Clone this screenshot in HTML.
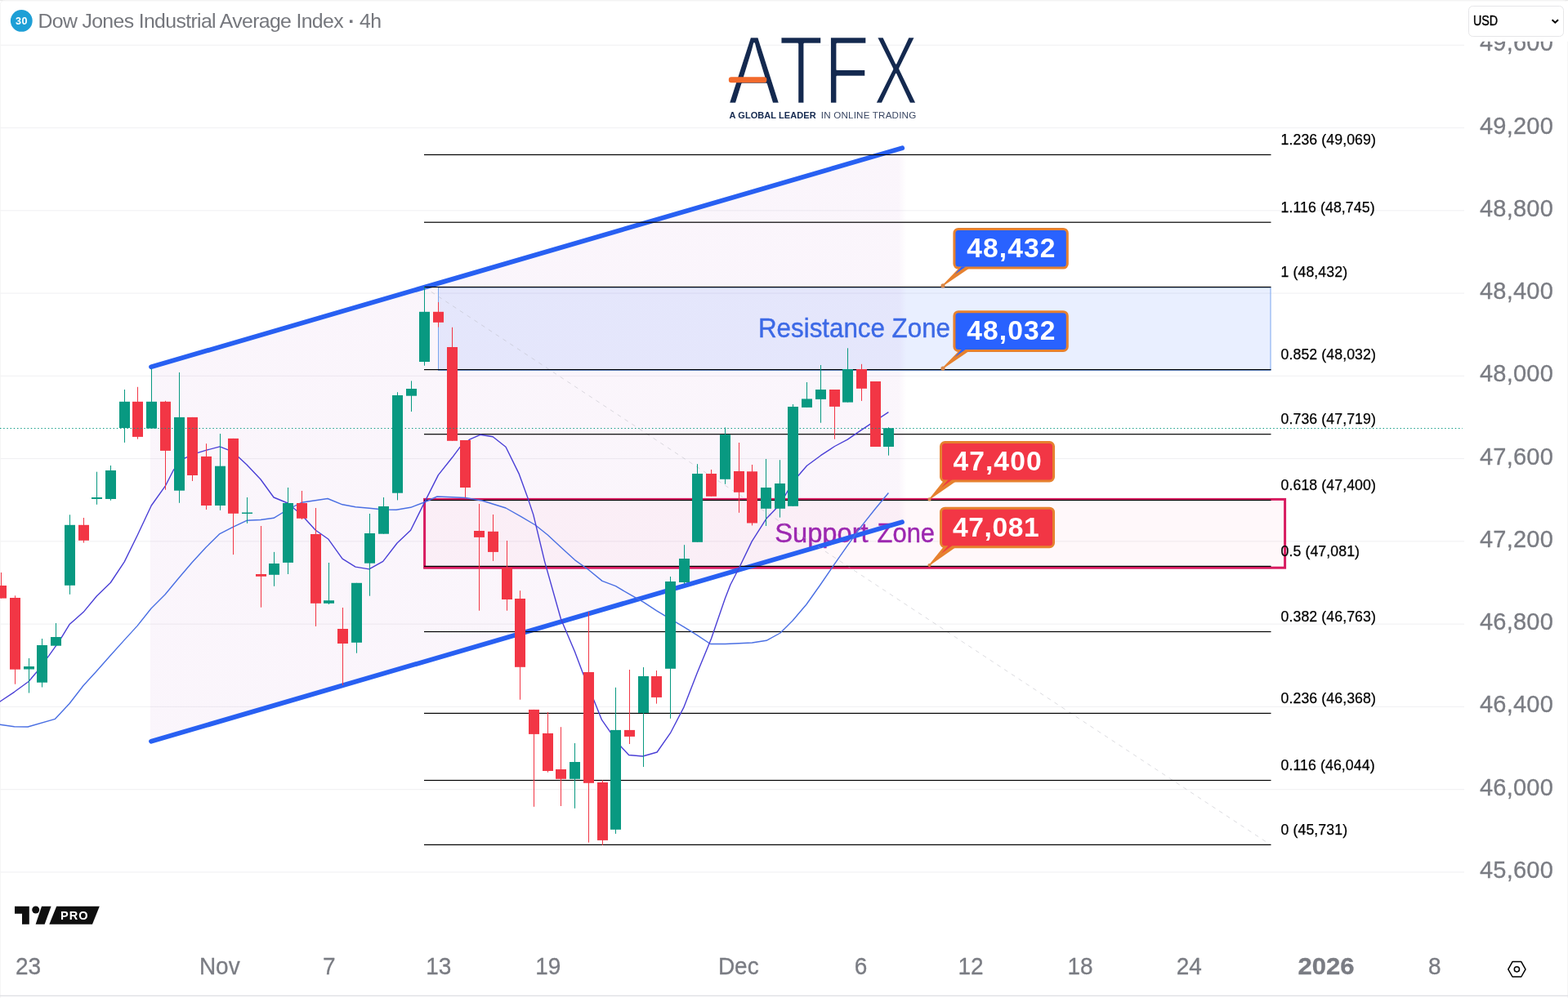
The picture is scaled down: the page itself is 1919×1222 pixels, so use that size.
<!DOCTYPE html><html><head><meta charset="utf-8"><title>Dow Jones Industrial Average Index 4h</title>
<style>html,body{margin:0;padding:0;background:#fff;}body{width:1919px;height:1222px;overflow:hidden;}svg{display:block;}text{font-family:"Liberation Sans",sans-serif;}.ax{font-size:29px;fill:#7a7c83;stroke:#7a7c83;stroke-width:0.3px;}.fib{font-size:17.7px;fill:#000;letter-spacing:0.1px;stroke:#000;stroke-width:0.25px;}.call{font-size:32px;font-weight:bold;fill:#fff;letter-spacing:1.6px;}</style></head><body>
<svg width="1919" height="1222" viewBox="0 0 1919 1222">
<rect x="0" y="0" width="1919" height="1222" fill="#fff"/>
<rect x="0" y="54.7" width="1792" height="1.1" fill="#f1f1f3"/>
<rect x="0" y="155.97" width="1792" height="1.1" fill="#f1f1f3"/>
<rect x="0" y="257.24" width="1792" height="1.1" fill="#f1f1f3"/>
<rect x="0" y="358.51" width="1792" height="1.1" fill="#f1f1f3"/>
<rect x="0" y="459.78" width="1792" height="1.1" fill="#f1f1f3"/>
<rect x="0" y="561.05" width="1792" height="1.1" fill="#f1f1f3"/>
<rect x="0" y="662.32" width="1792" height="1.1" fill="#f1f1f3"/>
<rect x="0" y="763.59" width="1792" height="1.1" fill="#f1f1f3"/>
<rect x="0" y="864.86" width="1792" height="1.1" fill="#f1f1f3"/>
<rect x="0" y="966.13" width="1792" height="1.1" fill="#f1f1f3"/>
<rect x="0" y="1067.4" width="1792" height="1.1" fill="#f1f1f3"/>
<rect x="0" y="0" width="1919" height="1.2" fill="#e8e8e8"/>
<rect x="0.4" y="0.6" width="1918.2" height="1260" rx="5" fill="none" stroke="#f4f4f4" stroke-width="1"/>
<rect x="0" y="1218.6" width="1919" height="1.4" fill="#e0e1e5"/>
<defs><linearGradient id="cg" gradientUnits="userSpaceOnUse" x1="184" y1="0" x2="1109" y2="0"><stop offset="0" stop-color="#9c27b0" stop-opacity="0.045"/><stop offset="0.99" stop-color="#9c27b0" stop-opacity="0.045"/><stop offset="1" stop-color="#9c27b0" stop-opacity="0"/></linearGradient></defs>
<polygon points="184,449.5 1109,180 1109,637.8 184,908" fill="url(#cg)"/>
<rect x="536.5" y="352" width="1018.5" height="101.5" fill="#2962ff" fill-opacity="0.1" stroke="#7aa6ee" stroke-width="1"/>
<rect x="519.6" y="611.4" width="1053" height="83.8" fill="#f02050" fill-opacity="0.032" stroke="#d81b60" stroke-width="3"/>
<text x="928" y="412.6" font-size="33px" fill="#3c69e6" stroke="#3c69e6" stroke-width="0.4" textLength="235" lengthAdjust="spacingAndGlyphs">Resistance Zone</text>
<text x="948.2" y="663.5" font-size="33px" fill="#9c27b0" stroke="#9c27b0" stroke-width="0.4"><tspan textLength="114.5" lengthAdjust="spacingAndGlyphs">Support</tspan> <tspan x="1073.6" textLength="70.4" lengthAdjust="spacingAndGlyphs">Zone</tspan></text>
<line x1="185" y1="449.3" x2="1104.2" y2="181.3" stroke="#2860f2" stroke-width="5.8" stroke-linecap="round"/>
<line x1="185" y1="907.8" x2="1104" y2="639.3" stroke="#2860f2" stroke-width="5.8" stroke-linecap="round"/>
<line x1="519" y1="351.5" x2="1555" y2="1034.4" stroke="#b8b8c0" stroke-width="1" stroke-dasharray="5 5.5" opacity="0.5"/>
<rect x="519" y="188.9" width="1036.5" height="1.2" fill="#000"/>
<text class="fib" x="1567.5" y="177.1">1.236 (49,069)</text>
<rect x="519" y="271.6" width="1036.5" height="1.2" fill="#000"/>
<text class="fib" x="1567.5" y="259.8">1.116 (48,745)</text>
<rect x="519" y="350.9" width="1036.5" height="1.2" fill="#000"/>
<text class="fib" x="1567.5" y="339.1">1 (48,432)</text>
<rect x="519" y="452" width="1036.5" height="1.2" fill="#000"/>
<text class="fib" x="1567.5" y="440.2">0.852 (48,032)</text>
<rect x="519" y="531.1" width="1036.5" height="1.2" fill="#000"/>
<text class="fib" x="1567.5" y="519.3">0.736 (47,719)</text>
<rect x="519" y="611.9" width="1036.5" height="1.2" fill="#000"/>
<text class="fib" x="1567.5" y="600.1">0.618 (47,400)</text>
<rect x="519" y="692.8" width="1036.5" height="1.2" fill="#000"/>
<text class="fib" x="1567.5" y="681">0.5 (47,081)</text>
<rect x="519" y="772.9" width="1036.5" height="1.2" fill="#000"/>
<text class="fib" x="1567.5" y="761.1">0.382 (46,763)</text>
<rect x="519" y="872.8" width="1036.5" height="1.2" fill="#000"/>
<text class="fib" x="1567.5" y="861">0.236 (46,368)</text>
<rect x="519" y="954.9" width="1036.5" height="1.2" fill="#000"/>
<text class="fib" x="1567.5" y="943.1">0.116 (46,044)</text>
<rect x="519" y="1033.8" width="1036.5" height="1.2" fill="#000"/>
<text class="fib" x="1567.5" y="1022">0 (45,731)</text>
<polyline fill="none" stroke="#4a6fe3" stroke-width="1.4" stroke-linejoin="round" points="-2,887 0,887.3 17.5,889.8 34,890 67.5,880.3 85,861.5 102,839.5 118,822 135,802.7 152,783.9 168,766.4 185,745 202,728 219,707.5 235,688.8 252,670.3 269,653.6 285,645.3 302,637.3 319,636.5 335,634.3 352,624 369,615.3 386,612.8 401,610.5 419,617.8 435,620.8 452,622.3 469,624 485,624.3 502.6,621.3 519.4,615 535,608 553.4,608.8 569.4,609.5 590,613 619,622 637.8,632.6 655.3,643 670.3,655 686.4,670 703.4,685.6 720.4,697.7 737,711.4 753.5,717.7 770.5,727.7 787.3,737.2 803.3,747.7 820.3,757.8 837.3,767.8 853.4,777.8 869.4,788.5 887.4,788.5 904.4,787.8 920.5,787 938,784.3 955,775 970,760 987,740 1004,716 1021.5,690.4 1037.3,667.9 1054.4,644.1 1071.4,622.8 1087.4,603.5"/>
<polyline fill="none" stroke="#4a3fd6" stroke-width="1.4" stroke-linejoin="round" points="-2,860 0,859 17.5,847.3 35,834.5 45,822.7 60,802.7 72.5,785.2 85,764.6 102,749.6 118.25,730 135.25,713.5 152.25,687.9 168.25,655.3 185.25,619 202.25,595.2 212.5,575.2 226.25,560.9 241.25,554.7 252,551.4 269,546.9 285,553.2 302,568.9 319,587 335,609 352,616 369,630.3 386,649 402,660.3 419,684.1 435,694.1 451.75,696.9 468.75,687.4 486,665 502.6,649.3 519.4,615.4 536.4,581.6 553.4,560.3 562.7,547.8 575.2,537.8 587.7,532.3 603.2,534.8 619,547.3 635.3,580.4 645.3,607.9 652.8,630.4 666.6,687.6 686.4,757.8 703.4,797.8 712.7,822.6 726.5,856.4 736.5,881.4 747.8,897.7 760.3,914.5 769.6,924.5 786.6,926 804.1,921 820.4,897.7 836.7,866.4 853.2,824 870.5,782 887.4,732.7 893.9,716 905.1,694.2 920.2,662.9 937.7,635.3 954.5,617.8 970.2,590.3 987.5,570.2 1004.5,557.7 1021.5,546.5 1037.3,538.2 1054.4,526.4 1071.4,515.2 1087.4,504.6"/>
<rect x="1" y="701" width="1" height="31.6" fill="#f23645"/>
<rect x="-5" y="717" width="13" height="15.6" fill="#f23645"/>
<rect x="18" y="729.3" width="1" height="108.4" fill="#f23645"/>
<rect x="12" y="732" width="13" height="87.7" fill="#f23645"/>
<rect x="35" y="806" width="1" height="42.5" fill="#089981"/>
<rect x="29" y="816" width="13" height="3.5" fill="#089981"/>
<rect x="51" y="782" width="1" height="59.5" fill="#089981"/>
<rect x="45" y="790" width="13" height="45.7" fill="#089981"/>
<rect x="68" y="763" width="1" height="27.7" fill="#089981"/>
<rect x="62" y="780" width="13" height="10.7" fill="#089981"/>
<rect x="85" y="630.3" width="1" height="97.5" fill="#089981"/>
<rect x="79" y="642.8" width="13" height="74" fill="#089981"/>
<rect x="102" y="634" width="1" height="30.6" fill="#f23645"/>
<rect x="96" y="642.8" width="13" height="19" fill="#f23645"/>
<rect x="118" y="577.7" width="1" height="40.1" fill="#089981"/>
<rect x="112" y="609" width="13" height="2" fill="#089981"/>
<rect x="135" y="570" width="1" height="42.8" fill="#089981"/>
<rect x="129" y="576" width="13" height="35" fill="#089981"/>
<rect x="152" y="477" width="1" height="64.9" fill="#089981"/>
<rect x="146" y="491.8" width="13" height="32.3" fill="#089981"/>
<rect x="168" y="473.8" width="1" height="63.8" fill="#f23645"/>
<rect x="162" y="491.8" width="13" height="43.1" fill="#f23645"/>
<rect x="185" y="451.3" width="1" height="73.3" fill="#089981"/>
<rect x="179" y="491.8" width="13" height="32.8" fill="#089981"/>
<rect x="202" y="490.8" width="1" height="108.9" fill="#f23645"/>
<rect x="196" y="491.8" width="13" height="60.1" fill="#f23645"/>
<rect x="219" y="456" width="1" height="159.8" fill="#089981"/>
<rect x="213" y="510.9" width="13" height="89.8" fill="#089981"/>
<rect x="235" y="510.9" width="1" height="78.1" fill="#f23645"/>
<rect x="229" y="510.9" width="13" height="71.1" fill="#f23645"/>
<rect x="252" y="543.2" width="1" height="80.8" fill="#f23645"/>
<rect x="246" y="558.9" width="13" height="60.1" fill="#f23645"/>
<rect x="269" y="531.1" width="1" height="93.7" fill="#089981"/>
<rect x="263" y="570.7" width="13" height="48.3" fill="#089981"/>
<rect x="285" y="536.9" width="1" height="142.2" fill="#f23645"/>
<rect x="279" y="536.9" width="13" height="91.9" fill="#f23645"/>
<rect x="302" y="609" width="1" height="31.8" fill="#089981"/>
<rect x="296" y="627.5" width="13" height="1.5" fill="#089981"/>
<rect x="319" y="644" width="1" height="99.7" fill="#f23645"/>
<rect x="313" y="703" width="13" height="2.8" fill="#f23645"/>
<rect x="335" y="675.9" width="1" height="41.9" fill="#089981"/>
<rect x="329" y="690" width="13" height="13.8" fill="#089981"/>
<rect x="352" y="597" width="1" height="106" fill="#089981"/>
<rect x="346" y="616" width="13" height="72.9" fill="#089981"/>
<rect x="369" y="601" width="1" height="35" fill="#f23645"/>
<rect x="363" y="616" width="13" height="18.8" fill="#f23645"/>
<rect x="386" y="622" width="1" height="144.9" fill="#f23645"/>
<rect x="380" y="654" width="13" height="84.8" fill="#f23645"/>
<rect x="402" y="689" width="1" height="51" fill="#089981"/>
<rect x="396" y="735.2" width="13" height="3.6" fill="#089981"/>
<rect x="419" y="744" width="1" height="95" fill="#f23645"/>
<rect x="413" y="770" width="13" height="18" fill="#f23645"/>
<rect x="436" y="713.8" width="1" height="85.9" fill="#089981"/>
<rect x="430" y="713.8" width="13" height="73" fill="#089981"/>
<rect x="452" y="629" width="1" height="100.7" fill="#089981"/>
<rect x="446" y="653" width="13" height="36.7" fill="#089981"/>
<rect x="469" y="609" width="1" height="44.7" fill="#089981"/>
<rect x="463" y="620" width="13" height="33.7" fill="#089981"/>
<rect x="486" y="480.2" width="1" height="132.2" fill="#089981"/>
<rect x="480" y="484" width="13" height="119.7" fill="#089981"/>
<rect x="503" y="466.4" width="1" height="37.6" fill="#089981"/>
<rect x="497" y="476" width="13" height="8.7" fill="#089981"/>
<rect x="519" y="351.3" width="1" height="96.4" fill="#089981"/>
<rect x="513" y="381.8" width="13" height="61.2" fill="#089981"/>
<rect x="536" y="370" width="1" height="30.6" fill="#f23645"/>
<rect x="530" y="381.8" width="13" height="13" fill="#f23645"/>
<rect x="553" y="400.8" width="1" height="139" fill="#f23645"/>
<rect x="547" y="425" width="13" height="114.8" fill="#f23645"/>
<rect x="569" y="539" width="1" height="70" fill="#f23645"/>
<rect x="563" y="539" width="13" height="58" fill="#f23645"/>
<rect x="586" y="617" width="1" height="130.7" fill="#f23645"/>
<rect x="580" y="650" width="13" height="7.9" fill="#f23645"/>
<rect x="603" y="630" width="1" height="56.9" fill="#f23645"/>
<rect x="597" y="650.8" width="13" height="25.1" fill="#f23645"/>
<rect x="620" y="662" width="1" height="85.7" fill="#f23645"/>
<rect x="614" y="695.2" width="13" height="38.8" fill="#f23645"/>
<rect x="636" y="723.2" width="1" height="133.5" fill="#f23645"/>
<rect x="630" y="733" width="13" height="83.8" fill="#f23645"/>
<rect x="653" y="868.9" width="1" height="118.9" fill="#f23645"/>
<rect x="647" y="868.9" width="13" height="30" fill="#f23645"/>
<rect x="670" y="872" width="1" height="73.7" fill="#f23645"/>
<rect x="664" y="897.9" width="13" height="46.1" fill="#f23645"/>
<rect x="686" y="890.2" width="1" height="96.8" fill="#f23645"/>
<rect x="680" y="942" width="13" height="11.8" fill="#f23645"/>
<rect x="703" y="910" width="1" height="79.8" fill="#089981"/>
<rect x="697" y="933" width="13" height="20.8" fill="#089981"/>
<rect x="720" y="749" width="1" height="282.6" fill="#f23645"/>
<rect x="714" y="823" width="13" height="135.8" fill="#f23645"/>
<rect x="737" y="955.3" width="1" height="79.6" fill="#f23645"/>
<rect x="731" y="958" width="13" height="70.9" fill="#f23645"/>
<rect x="753" y="841.8" width="1" height="179.1" fill="#089981"/>
<rect x="747" y="893.9" width="13" height="121.9" fill="#089981"/>
<rect x="770" y="820" width="1" height="91" fill="#f23645"/>
<rect x="764" y="893.9" width="13" height="8" fill="#f23645"/>
<rect x="787" y="817" width="1" height="122" fill="#089981"/>
<rect x="781" y="828" width="13" height="45" fill="#089981"/>
<rect x="803" y="821" width="1" height="40.6" fill="#f23645"/>
<rect x="797" y="828" width="13" height="25.9" fill="#f23645"/>
<rect x="820" y="706" width="1" height="173.8" fill="#089981"/>
<rect x="814" y="712" width="13" height="106.8" fill="#089981"/>
<rect x="837" y="667.2" width="1" height="47.8" fill="#089981"/>
<rect x="831" y="684" width="13" height="29" fill="#089981"/>
<rect x="853" y="568.2" width="1" height="95.6" fill="#089981"/>
<rect x="847" y="580" width="13" height="83.8" fill="#089981"/>
<rect x="870" y="575" width="1" height="32.8" fill="#f23645"/>
<rect x="864" y="580" width="13" height="27.8" fill="#f23645"/>
<rect x="887" y="523.4" width="1" height="69.4" fill="#089981"/>
<rect x="881" y="532" width="13" height="54.8" fill="#089981"/>
<rect x="904" y="542" width="1" height="85.8" fill="#f23645"/>
<rect x="898" y="577" width="13" height="25.8" fill="#f23645"/>
<rect x="920" y="569" width="1" height="74.4" fill="#f23645"/>
<rect x="914" y="577.3" width="13" height="63.2" fill="#f23645"/>
<rect x="937" y="562" width="1" height="82" fill="#089981"/>
<rect x="931" y="597" width="13" height="25.8" fill="#089981"/>
<rect x="954" y="563.2" width="1" height="70.4" fill="#089981"/>
<rect x="948" y="592" width="13" height="30.8" fill="#089981"/>
<rect x="970" y="495" width="1" height="124.8" fill="#089981"/>
<rect x="964" y="498" width="13" height="121.8" fill="#089981"/>
<rect x="987" y="468" width="1" height="30.9" fill="#089981"/>
<rect x="981" y="488.4" width="13" height="10.5" fill="#089981"/>
<rect x="1004" y="447" width="1" height="70.7" fill="#089981"/>
<rect x="998" y="477" width="13" height="11.9" fill="#089981"/>
<rect x="1021" y="477" width="1" height="60.7" fill="#f23645"/>
<rect x="1015" y="477" width="13" height="20.9" fill="#f23645"/>
<rect x="1037" y="426.3" width="1" height="66.3" fill="#089981"/>
<rect x="1031" y="452" width="13" height="40.6" fill="#089981"/>
<rect x="1054" y="445.8" width="1" height="45.1" fill="#f23645"/>
<rect x="1048" y="452" width="13" height="23.8" fill="#f23645"/>
<rect x="1071" y="467" width="1" height="80" fill="#f23645"/>
<rect x="1065" y="467" width="13" height="80" fill="#f23645"/>
<rect x="1087" y="523.2" width="1" height="34.5" fill="#089981"/>
<rect x="1081" y="524.2" width="13" height="22.8" fill="#089981"/>
<line x1="0" y1="524.5" x2="1789.8" y2="524.5" stroke="#089981" stroke-width="1.2" stroke-dasharray="1.4 2.8"/>
<path d="M1175.4 327.6 L1155.2 348.6 L1185.4 328.1 Z" fill="#e6812f" stroke="#e6812f" stroke-width="1.6" stroke-linejoin="round"/>
<circle cx="1154" cy="349.8" r="2.6" fill="#d98848"/>
<rect x="1167.9" y="280.4" width="138.4" height="47.7" rx="5" fill="#2962ff" stroke="#e6812f" stroke-width="3"/>
<path d="M1176.9 326.4 L1168.4 336.1 L1181.9 326.4 Z" fill="#2962ff"/>
<text x="1237.95" y="314.7" text-anchor="middle" font-size="33.6px" font-weight="bold" fill="#fff" letter-spacing="1.1">48,432</text>
<path d="M1175.4 428.9 L1155.2 449.9 L1185.4 429.4 Z" fill="#e6812f" stroke="#e6812f" stroke-width="1.6" stroke-linejoin="round"/>
<circle cx="1154" cy="451.1" r="2.6" fill="#d98848"/>
<rect x="1167.9" y="381.7" width="138.4" height="47.7" rx="5" fill="#2962ff" stroke="#e6812f" stroke-width="3"/>
<path d="M1176.9 427.7 L1168.4 437.4 L1181.9 427.7 Z" fill="#2962ff"/>
<text x="1237.95" y="416" text-anchor="middle" font-size="33.6px" font-weight="bold" fill="#fff" letter-spacing="1.1">48,032</text>
<path d="M1156 588.5 L1138.7 610.2 L1169 589 Z" fill="#e6812f" stroke="#e6812f" stroke-width="1.6" stroke-linejoin="round"/>
<circle cx="1137.5" cy="611.4" r="2.1" fill="#d98848"/>
<rect x="1151.5" y="541.5" width="138" height="47.5" rx="5" fill="#f23645" stroke="#e6812f" stroke-width="3"/>
<path d="M1160.5 587.3 L1152 597 L1165.5 587.3 Z" fill="#f23645"/>
<text x="1221.05" y="575.8" text-anchor="middle" font-size="33.6px" font-weight="bold" fill="#fff" letter-spacing="1.1">47,400</text>
<path d="M1156 669.2 L1138.7 690.8 L1169 669.7 Z" fill="#e6812f" stroke="#e6812f" stroke-width="1.6" stroke-linejoin="round"/>
<circle cx="1137.5" cy="692" r="2.1" fill="#d98848"/>
<rect x="1151.5" y="622.2" width="138" height="47.5" rx="5" fill="#f23645" stroke="#e6812f" stroke-width="3"/>
<path d="M1160.5 668 L1152 677.7 L1165.5 668 Z" fill="#f23645"/>
<text x="1219.2" y="656.5" text-anchor="middle" font-size="33.6px" font-weight="bold" fill="#fff" letter-spacing="0.6">47,081</text>
<text class="ax" x="1811" y="62.3" textLength="89.8" lengthAdjust="spacing">49,600</text>
<text class="ax" x="1811" y="163.57" textLength="89.8" lengthAdjust="spacing">49,200</text>
<text class="ax" x="1811" y="264.84" textLength="89.8" lengthAdjust="spacing">48,800</text>
<text class="ax" x="1811" y="366.11" textLength="89.8" lengthAdjust="spacing">48,400</text>
<text class="ax" x="1811" y="467.38" textLength="89.8" lengthAdjust="spacing">48,000</text>
<text class="ax" x="1811" y="568.65" textLength="89.8" lengthAdjust="spacing">47,600</text>
<text class="ax" x="1811" y="669.92" textLength="89.8" lengthAdjust="spacing">47,200</text>
<text class="ax" x="1811" y="771.19" textLength="89.8" lengthAdjust="spacing">46,800</text>
<text class="ax" x="1811" y="872.46" textLength="89.8" lengthAdjust="spacing">46,400</text>
<text class="ax" x="1811" y="973.73" textLength="89.8" lengthAdjust="spacing">46,000</text>
<text class="ax" x="1811" y="1075" textLength="89.8" lengthAdjust="spacing">45,600</text>
<text class="ax" transform="translate(34.5 1193.1) scale(0.965 1)" text-anchor="middle">23</text>
<text class="ax" transform="translate(268.75 1193.1) scale(0.965 1)" text-anchor="middle">Nov</text>
<text class="ax" transform="translate(402.75 1193.1) scale(0.965 1)" text-anchor="middle">7</text>
<text class="ax" transform="translate(536.75 1193.1) scale(0.965 1)" text-anchor="middle">13</text>
<text class="ax" transform="translate(670.75 1193.1) scale(0.965 1)" text-anchor="middle">19</text>
<text class="ax" transform="translate(903.75 1193.1) scale(0.965 1)" text-anchor="middle">Dec</text>
<text class="ax" transform="translate(1053.5 1193.1) scale(0.965 1)" text-anchor="middle">6</text>
<text class="ax" transform="translate(1188 1193.1) scale(0.965 1)" text-anchor="middle">12</text>
<text class="ax" transform="translate(1322 1193.1) scale(0.965 1)" text-anchor="middle">18</text>
<text class="ax" transform="translate(1455.25 1193.1) scale(0.965 1)" text-anchor="middle">24</text>
<text class="ax" transform="translate(1623 1193.1) scale(1.07 1)" text-anchor="middle" font-weight="bold">2026</text>
<text class="ax" transform="translate(1755.75 1193.1) scale(0.965 1)" text-anchor="middle">8</text>
<rect x="1795" y="2" width="124" height="48.8" fill="#fff"/>
<rect x="1797.5" y="7.5" width="116" height="37" rx="5" fill="#fff" stroke="#e6e6e8" stroke-width="1"/>
<text x="1803" y="31.4" font-size="16.9px" fill="#000" stroke="#000" stroke-width="0.4" textLength="30.2" lengthAdjust="spacingAndGlyphs">USD</text>
<path d="M1899.6 24.3 L1903.3 27.7 L1907 24.3" fill="none" stroke="#000" stroke-width="2"/>
<circle cx="26.3" cy="25.4" r="13.4" fill="#1e9fd6"/>
<text x="26.6" y="29.8" font-size="12.6px" font-weight="bold" fill="#fff" text-anchor="middle" letter-spacing="0.6">30</text>
<text x="46.5" y="34" font-size="24.8px" fill="#75777d" textLength="420.5" lengthAdjust="spacing">Dow Jones Industrial Average Index <tspan font-weight="bold">·</tspan> 4h</text>
<text y="127.1" font-size="118px" fill="#14294f" stroke="#fff" stroke-width="2.5" stroke-linejoin="round"><tspan x="891.4" textLength="62.96" lengthAdjust="spacingAndGlyphs">A</tspan><tspan x="953.4" textLength="53.7" lengthAdjust="spacingAndGlyphs">T</tspan><tspan x="1008.4" textLength="55.5" lengthAdjust="spacingAndGlyphs">F</tspan><tspan x="1069.3" textLength="54.31" lengthAdjust="spacingAndGlyphs">X</tspan></text>
<rect x="891.8" y="94.2" width="46.6" height="7" rx="3.2" fill="#f26a2c"/>
<text x="892.6" y="144.7" font-size="11px" font-weight="bold" fill="#14294f" textLength="106" lengthAdjust="spacing">A GLOBAL LEADER</text>
<text x="1004.8" y="144.7" font-size="11.6px" fill="#3a4763" textLength="116.4" lengthAdjust="spacing">IN ONLINE TRADING</text>
<g fill="#0f0f0f">
<path d="M18 1109.7 H35.8 V1131.7 H27 V1118.8 H18 Z"/>
<circle cx="43.7" cy="1114" r="4.5"/>
<path d="M51 1109.7 H62.6 L54.6 1131.7 H43.6 Z"/>
<path d="M69.2 1109.7 H121.8 L113 1131.7 H60.3 Z"/>
<text x="91.2" y="1125.6" font-size="14.5px" font-weight="bold" fill="#fff" text-anchor="middle" letter-spacing="1">PRO</text>
</g>
<g fill="none" stroke="#000" stroke-width="1.5">
<path d="M1845.8 1186.8 L1851 1177.6 H1861.8 L1867 1186.8 L1861.8 1196 H1851 Z" stroke-linejoin="round"/>
<circle cx="1856.4" cy="1186.8" r="3.1"/>
</g>
</svg></body></html>
